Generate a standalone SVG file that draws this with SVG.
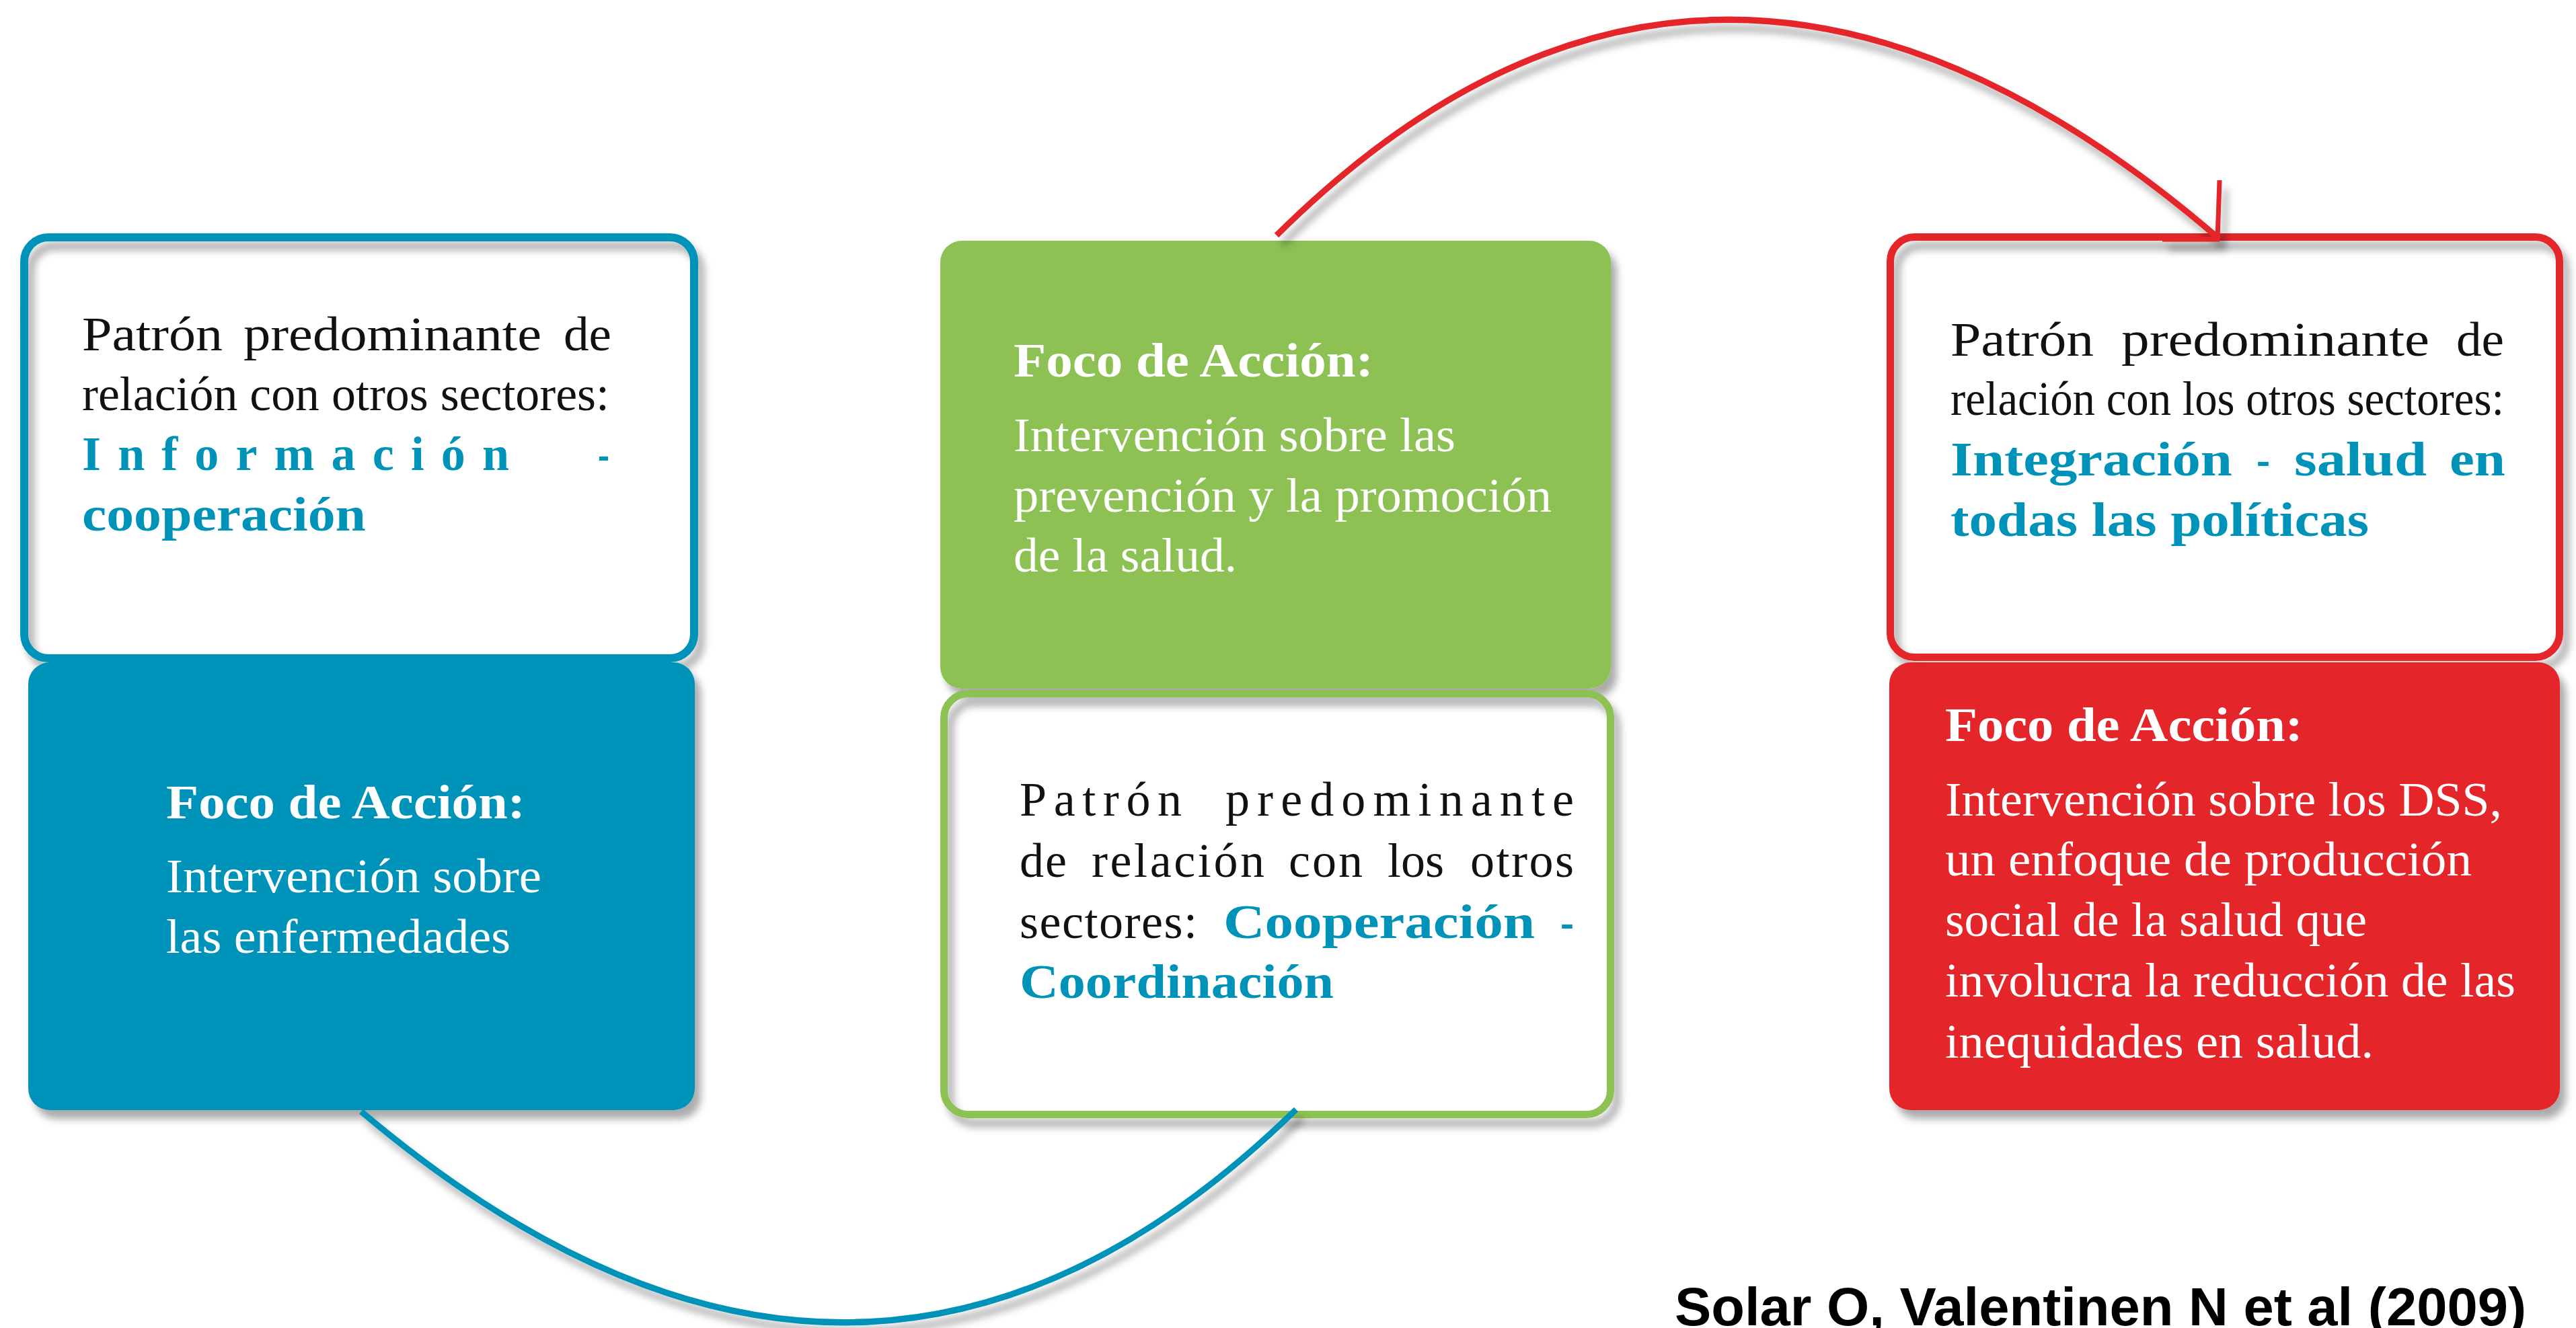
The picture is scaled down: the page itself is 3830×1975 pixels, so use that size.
<svg xmlns="http://www.w3.org/2000/svg" width="3830" height="1975" viewBox="0 0 3830 1975">
<defs>
<filter id="sh" x="-10%" y="-10%" width="125%" height="130%">
<feDropShadow dx="9" dy="13" stdDeviation="6" flood-color="#000" flood-opacity="0.33"/>
</filter>
<style>
.t{font-family:"Liberation Serif","Times New Roman",serif;font-size:72px}
.b{font-weight:bold}
.k{fill:#111}
.w{fill:#fff}
.c{fill:#0093BA}
.cite{font-family:"Liberation Sans",Arial,sans-serif;font-size:80px;font-weight:bold;fill:#000}
.fb{fill:#0093BA}
.fg{fill:#8DC153}
.fr{fill:#E4262B}
.sb{fill:none;stroke:#0093BA;stroke-width:12}
.sg{fill:none;stroke:#8DC153;stroke-width:11}
.sr{fill:none;stroke:#E4262B;stroke-width:11}
</style>
</defs>
<rect width="3830" height="1975" fill="#fff"/>

<g id="box-info">
<rect class="sb" x="36" y="353" width="996" height="626" rx="36" filter="url(#sh)"/>
<text class="t k" y="521"><tspan x="122" textLength="209" lengthAdjust="spacingAndGlyphs">Patrón</tspan></text>
<text class="t k" x="362" y="521" textLength="443" lengthAdjust="spacingAndGlyphs">predominante</text>
<text class="t k" x="838" y="521" textLength="71" lengthAdjust="spacingAndGlyphs">de</text>
<text class="t k" x="122" y="610" textLength="784" lengthAdjust="spacingAndGlyphs">relación con otros sectores:</text>
<text class="t b c" x="122" y="699" textLength="635" lengthAdjust="spacing">Información</text>
<text class="t b c" x="889" y="699" textLength="17" lengthAdjust="spacingAndGlyphs">-</text>
<text class="t b c" x="122" y="789" textLength="422" lengthAdjust="spacingAndGlyphs">cooperación</text>
</g>

<g id="box-foco-enfermedades">
<rect class="fb" x="42" y="985" width="991" height="666" rx="32" filter="url(#sh)"/>
<text class="t b w" x="247" y="1217" textLength="534" lengthAdjust="spacingAndGlyphs">Foco de Acción:</text>
<text class="t w" x="247" y="1327" textLength="558" lengthAdjust="spacingAndGlyphs">Intervención sobre</text>
<text class="t w" x="247" y="1417" textLength="512" lengthAdjust="spacingAndGlyphs">las enfermedades</text>
</g>

<g id="box-foco-prevencion">
<rect class="fg" x="1398" y="358" width="997" height="666" rx="32" filter="url(#sh)"/>
<text class="t b w" x="1507" y="560" textLength="535" lengthAdjust="spacingAndGlyphs">Foco de Acción:</text>
<text class="t w" x="1507" y="671" textLength="657" lengthAdjust="spacingAndGlyphs">Intervención sobre las</text>
<text class="t w" x="1507" y="761" textLength="800" lengthAdjust="spacingAndGlyphs">prevención y la promoción</text>
<text class="t w" x="1507" y="850" textLength="332" lengthAdjust="spacingAndGlyphs">de la salud.</text>
</g>

<g id="box-cooperacion">
<rect class="sg" x="1403.5" y="1031.5" width="991" height="626" rx="36" filter="url(#sh)"/>
<text class="t k" x="1516" y="1213" textLength="241" lengthAdjust="spacing">Patrón</text>
<text class="t k" x="1822" y="1213" textLength="518" lengthAdjust="spacing">predominante</text>
<text class="t k" x="1516" y="1304" textLength="70" lengthAdjust="spacing">de</text>
<text class="t k" x="1623" y="1304" textLength="257" lengthAdjust="spacing">relación</text>
<text class="t k" x="1916" y="1304" textLength="110" lengthAdjust="spacing">con</text>
<text class="t k" x="2063" y="1304" textLength="84" lengthAdjust="spacing">los</text>
<text class="t k" x="2186" y="1304" textLength="154" lengthAdjust="spacing">otros</text>
<text class="t k" x="1516" y="1395" textLength="264" lengthAdjust="spacing">sectores:</text>
<text class="t b c" x="1819" y="1395" textLength="463" lengthAdjust="spacingAndGlyphs">Cooperación</text>
<text class="t b c" x="2320" y="1395" textLength="20" lengthAdjust="spacingAndGlyphs">-</text>
<text class="t b c" x="1516" y="1484" textLength="467" lengthAdjust="spacingAndGlyphs">Coordinación</text>
</g>

<g id="box-integracion">
<rect class="sr" x="2810.5" y="352.5" width="995" height="625" rx="36" filter="url(#sh)"/>
<text class="t k" x="2900" y="529" textLength="213" lengthAdjust="spacingAndGlyphs">Patrón</text>
<text class="t k" x="3154" y="529" textLength="458" lengthAdjust="spacingAndGlyphs">predominante</text>
<text class="t k" x="3652" y="529" textLength="71" lengthAdjust="spacingAndGlyphs">de</text>
<text class="t k" x="2900" y="617" textLength="823" lengthAdjust="spacingAndGlyphs">relación con los otros sectores:</text>
<text class="t b c" x="2900" y="707" textLength="419" lengthAdjust="spacingAndGlyphs">Integración</text>
<text class="t b c" x="3355" y="707" textLength="20" lengthAdjust="spacingAndGlyphs">-</text>
<text class="t b c" x="3411" y="707" textLength="197" lengthAdjust="spacingAndGlyphs">salud</text>
<text class="t b c" x="3642" y="707" textLength="83" lengthAdjust="spacingAndGlyphs">en</text>
<text class="t b c" x="2900" y="797" textLength="622" lengthAdjust="spacingAndGlyphs">todas las políticas</text>
</g>

<g id="box-foco-dss">
<rect class="fr" x="2809" y="985" width="997" height="666" rx="32" filter="url(#sh)"/>
<text class="t b w" x="2892" y="1102" textLength="532" lengthAdjust="spacingAndGlyphs">Foco de Acción:</text>
<text class="t w" x="2892" y="1213" textLength="828" lengthAdjust="spacingAndGlyphs">Intervención sobre los DSS,</text>
<text class="t w" x="2892" y="1302" textLength="783" lengthAdjust="spacingAndGlyphs">un enfoque de producción</text>
<text class="t w" x="2892" y="1392" textLength="627" lengthAdjust="spacingAndGlyphs">social de la salud que</text>
<text class="t w" x="2892" y="1482" textLength="848" lengthAdjust="spacingAndGlyphs">involucra la reducción de las</text>
<text class="t w" x="2892" y="1573" textLength="637" lengthAdjust="spacingAndGlyphs">inequidades en salud.</text>
</g>

<g id="connectors" fill="none" stroke-linecap="butt" filter="url(#sh)">
<path d="M537,1653 Q1280,2282 1927,1650" stroke="#0093BA" stroke-width="9"/>
<path d="M1898,350 Q2546,-293 3297,353" stroke="#E4262B" stroke-width="9"/>
<path d="M3300,268 L3297,356 L3215,356" stroke="#E4262B" stroke-width="7" stroke-linejoin="miter"/>
</g>

<text id="citation" class="cite" x="2490" y="1971" textLength="1266" lengthAdjust="spacingAndGlyphs">Solar O, Valentinen N et al (2009)</text>
</svg>
